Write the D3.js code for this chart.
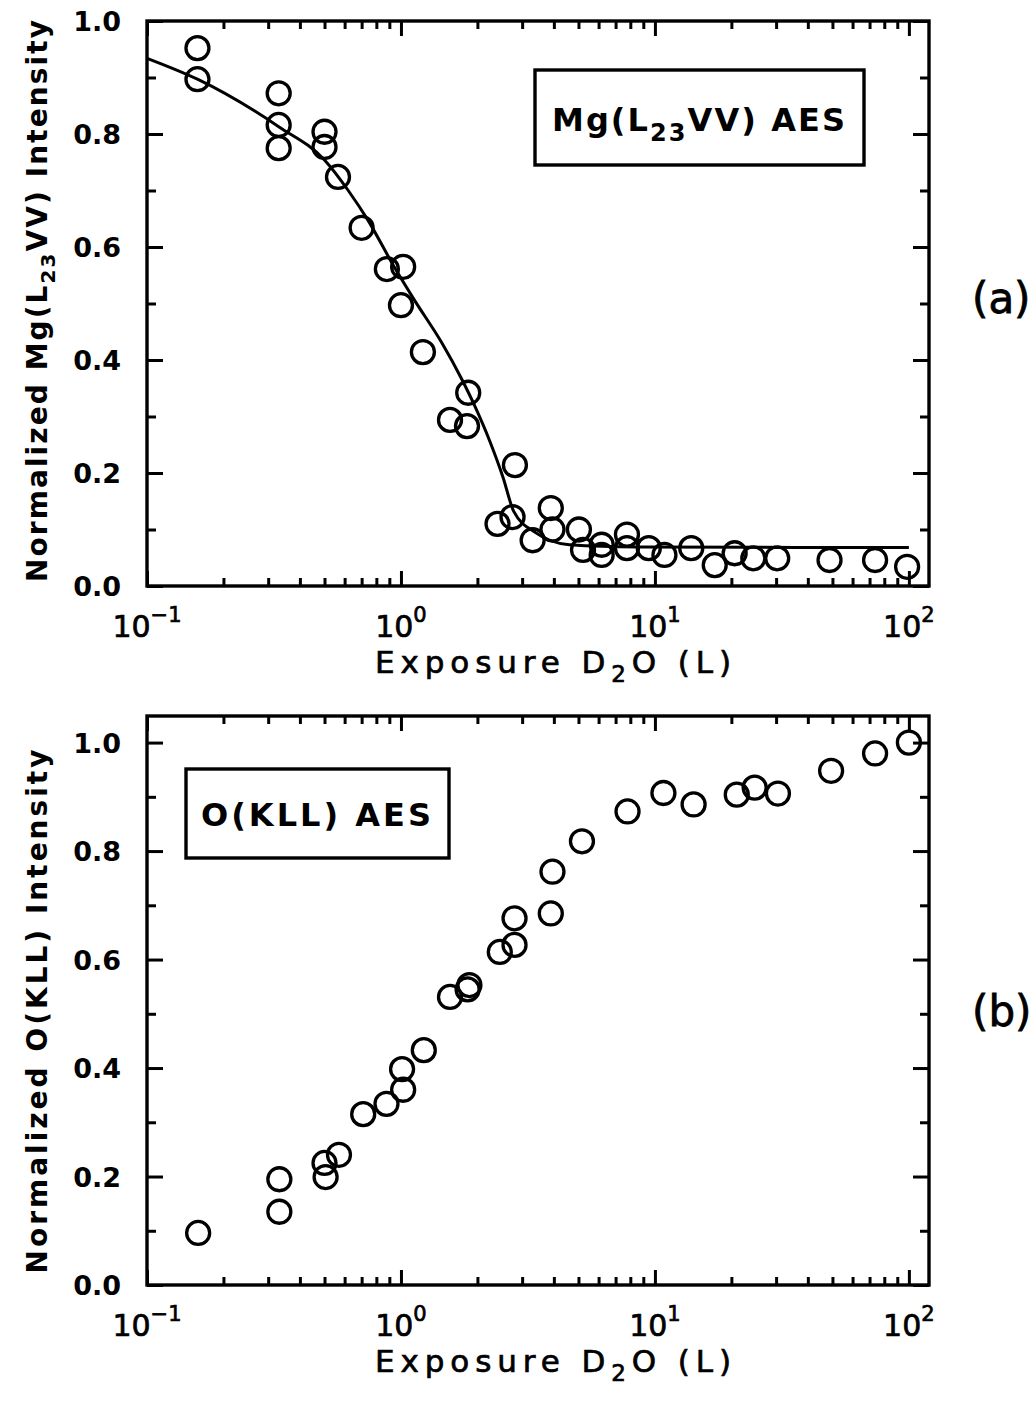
<!DOCTYPE html>
<html>
<head>
<meta charset="utf-8">
<script src="https://cdn.jsdelivr.net/npm/d3@7"></script>
<style>
  html, body { margin: 0; padding: 0; background: #fff; }
  svg { display: block; }
  text { font-family: "DejaVu Sans", sans-serif; fill: #000; }
</style>
</head>
<body>
<svg id="fig" width="1033" height="1405"></svg>
<script>
// Mg(L23VV) Auger intensity versus D2O exposure (Langmuir)
const mgExposure  = [0.158, 0.158, 0.33, 0.33, 0.33, 0.50, 0.50, 0.565, 0.70, 0.88, 1.02, 1.00, 1.22, 1.84, 1.56, 1.82,
                     2.81, 2.40, 2.75, 3.30, 3.89, 3.95, 5.02, 5.21, 6.17, 6.17, 7.76, 7.76, 9.46, 10.9, 13.9, 17.2,
                     20.6, 24.4, 30.3, 48.7, 73.6, 98.4];
const mgIntensity = [0.952, 0.897, 0.872, 0.816, 0.775, 0.804, 0.777, 0.724, 0.634, 0.561, 0.565, 0.497, 0.414, 0.342, 0.294, 0.283,
                     0.214, 0.110, 0.122, 0.081, 0.138, 0.100, 0.100, 0.064, 0.073, 0.055, 0.091, 0.067, 0.067, 0.055, 0.067, 0.037,
                     0.058, 0.049, 0.049, 0.046, 0.046, 0.034];

// fitted curve through the Mg signal
const mgFitExposure  = [0.1, 0.158, 0.33, 0.50, 0.62, 0.74, 0.94, 1.13, 1.45, 1.74, 1.96, 2.23, 2.52, 2.78, 3.4, 4.6, 8.5, 100];
const mgFitIntensity = [0.934, 0.897, 0.813, 0.754, 0.700, 0.648, 0.565, 0.506, 0.430, 0.365, 0.317, 0.258, 0.193, 0.132, 0.094, 0.073, 0.069, 0.068];

// O(KLL) Auger intensity versus D2O exposure
const oExposure  = [0.159, 0.332, 0.332, 0.50, 0.505, 0.57, 0.71, 0.877, 1.01, 1.02, 1.23, 1.56, 1.83, 1.86, 2.45, 2.80,
                    2.80, 3.89, 3.95, 5.16, 7.80, 10.8, 14.2, 21.0, 24.7, 30.5, 49.4, 73.6, 100];
const oIntensity = [0.096, 0.195, 0.135, 0.225, 0.199, 0.240, 0.315, 0.334, 0.398, 0.360, 0.433, 0.531, 0.545, 0.553, 0.614, 0.627,
                    0.676, 0.685, 0.762, 0.818, 0.873, 0.907, 0.886, 0.904, 0.917, 0.906, 0.948, 0.980, 1.000];

// axis ticks and labels
const decadeTicks     = [0.1, 1, 10, 100];
const decadeExponents = ["\u22121", "0", "1", "2"];
const minorMultiples  = [2, 3, 4, 5, 6, 7, 8, 9];
const yMajorTicks     = [0.0, 0.2, 0.4, 0.6, 0.8, 1.0];
const yMinorTicks     = [0.1, 0.3, 0.5, 0.7, 0.9];

const svg = d3.select("#fig");
const LINE = 3.4;

const xMinorTicks = [];
[0.1, 1, 10].forEach(d => minorMultiples.forEach(m => xMinorTicks.push(+(d * m).toPrecision(3))));

// fit a text element to a target length by spreading its letters
function spreadTo(sel, target) {
  const node = sel.node();
  const n = node.getNumberOfChars();
  const natural = node.getComputedTextLength();
  sel.attr("letter-spacing", ((target - natural) / Math.max(1, n - 1)).toFixed(2));
}

function drawPanel(cfg) {
  const x = d3.scaleLog().domain([0.1, 120]).range([147, 929]);
  const y = d3.scaleLinear().domain(cfg.yDomain).range([cfg.bottom, cfg.top]);
  const g = svg.append("g");

  const styleTicks = sel => {
    sel.select(".domain").remove();
    sel.selectAll(".tick line").attr("stroke-width", 3).attr("stroke", "#000");
    sel.selectAll(".tick text").remove();
  };

  // inward ticks on all four sides
  const addAxis = (gen, tx, ty) =>
    g.append("g").attr("transform", `translate(${tx},${ty})`).call(gen).call(styleTicks);

  addAxis(d3.axisBottom(x).tickValues(decadeTicks).tickSize(-15), 0, cfg.bottom);
  addAxis(d3.axisBottom(x).tickValues(xMinorTicks).tickSize(-8), 0, cfg.bottom);
  addAxis(d3.axisTop(x).tickValues(decadeTicks).tickSize(-15), 0, cfg.top);
  addAxis(d3.axisTop(x).tickValues(xMinorTicks).tickSize(-8), 0, cfg.top);
  addAxis(d3.axisLeft(y).tickValues(yMajorTicks).tickSize(-16), 147, 0);
  addAxis(d3.axisLeft(y).tickValues(yMinorTicks).tickSize(-9), 147, 0);
  addAxis(d3.axisRight(y).tickValues(yMajorTicks).tickSize(-16), 929, 0);
  addAxis(d3.axisRight(y).tickValues(yMinorTicks).tickSize(-9), 929, 0);

  // frame
  g.append("rect")
    .attr("x", 147).attr("y", cfg.top)
    .attr("width", 929 - 147).attr("height", cfg.bottom - cfg.top)
    .attr("fill", "none").attr("stroke", "#000").attr("stroke-width", LINE);

  // y tick labels
  const yLab = g.append("g")
    .attr("transform", "translate(147,0)")
    .call(d3.axisLeft(y).tickValues(yMajorTicks).tickSize(0).tickPadding(26).tickFormat(d3.format(".1f")));
  yLab.select(".domain").remove();
  yLab.attr("font-family", null).attr("font-size", null);
  yLab.selectAll(".tick text")
    .attr("font-size", 27).attr("font-weight", "bold").attr("fill", "#000").attr("dy", "0.36em");

  // x tick labels: powers of ten
  decadeTicks.forEach((v, i) => {
    const t = g.append("text")
      .attr("x", x(v)).attr("y", cfg.bottom + 51)
      .attr("text-anchor", "middle").attr("font-size", 30)
      .attr("stroke", "#000").attr("stroke-width", 0.7);
    t.append("tspan").text("10");
    t.append("tspan").attr("font-size", 21).attr("dy", -15).text(decadeExponents[i]);
  });

  // x axis title
  const xt = g.append("text")
    .attr("x", 556).attr("y", cfg.bottom + 87)
    .attr("text-anchor", "middle").attr("font-size", 31)
    .attr("stroke", "#000").attr("stroke-width", 0.7);
  xt.append("tspan").text("Exposure D");
  xt.append("tspan").attr("font-size", 23).attr("dy", 9).text("2");
  xt.append("tspan").attr("dy", -9).text("O (L)");
  spreadTo(xt, 356);

  // y axis title
  const yt = g.append("text")
    .attr("transform", `translate(47,${cfg.titleCenter}) rotate(-90)`)
    .attr("text-anchor", "middle").attr("font-size", 28).attr("font-weight", "bold");
  cfg.yTitle.forEach(p => {
    const s = yt.append("tspan").text(p.t);
    if (p.sub) s.attr("font-size", 20).attr("dy", 8);
    if (p.back) s.attr("dy", -8);
  });
  spreadTo(yt, cfg.titleLength);

  // legend box
  g.append("rect")
    .attr("x", cfg.box[0]).attr("y", cfg.box[1])
    .attr("width", cfg.box[2] - cfg.box[0]).attr("height", cfg.box[3] - cfg.box[1])
    .attr("fill", "#fff").attr("stroke", "#000").attr("stroke-width", LINE);
  const lt = g.append("text")
    .attr("x", (cfg.box[0] + cfg.box[2]) / 2).attr("y", cfg.boxBaseline)
    .attr("text-anchor", "middle").attr("font-size", 32).attr("font-weight", "bold");
  cfg.label.forEach(p => {
    const s = lt.append("tspan").text(p.t);
    if (p.sub) s.attr("font-size", 24).attr("dy", 10);
    if (p.back) s.attr("dy", -10);
  });
  spreadTo(lt, cfg.labelLength);

  // panel tag
  g.append("text")
    .attr("x", 972).attr("y", cfg.tagY)
    .attr("font-size", 42).attr("stroke", "#000").attr("stroke-width", 0.8)
    .text(cfg.tag);

  // fitted curve
  if (cfg.fitX) {
    const line = d3.line().x(d => x(d[0])).y(d => y(d[1])).curve(d3.curveMonotoneX);
    g.append("path")
      .attr("d", line(d3.zip(cfg.fitX, cfg.fitY)))
      .attr("fill", "none").attr("stroke", "#000").attr("stroke-width", 3);
  }

  // data points
  g.append("g").selectAll("circle")
    .data(d3.zip(cfg.xs, cfg.ys))
    .join("circle")
    .attr("cx", d => x(d[0])).attr("cy", d => y(d[1]))
    .attr("r", 11.5)
    .attr("fill", "none").attr("stroke", "#000").attr("stroke-width", 3.3);
}

drawPanel({
  top: 21, bottom: 586, yDomain: [0, 1],
  xs: mgExposure, ys: mgIntensity,
  fitX: mgFitExposure, fitY: mgFitIntensity,
  yTitle: [{ t: "Normalized Mg(L" }, { t: "23", sub: true }, { t: "VV) Intensity", back: true }],
  titleCenter: 300, titleLength: 562,
  box: [535, 70, 864, 165], boxBaseline: 131,
  label: [{ t: "Mg(L" }, { t: "23", sub: true }, { t: "VV) AES", back: true }],
  labelLength: 293,
  tag: "(a)", tagY: 313
});

drawPanel({
  top: 716, bottom: 1285, yDomain: [0, 1.049],
  xs: oExposure, ys: oIntensity,
  yTitle: [{ t: "Normalized O(KLL) Intensity" }],
  titleCenter: 1010, titleLength: 524,
  box: [186, 769, 449, 858], boxBaseline: 826,
  label: [{ t: "O(KLL) AES" }],
  labelLength: 230,
  tag: "(b)", tagY: 1026
});
</script>
</body>
</html>
